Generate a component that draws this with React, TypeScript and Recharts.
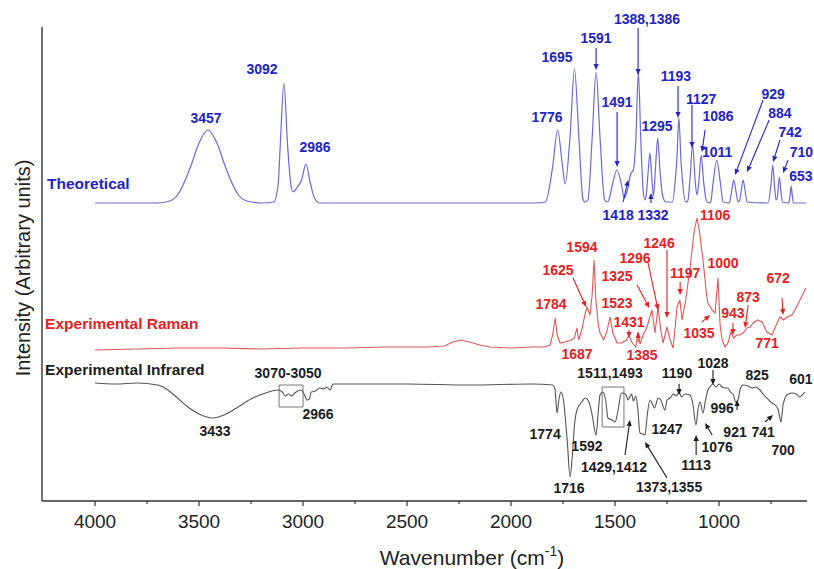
import {
  LineChart,
  Line,
  XAxis,
  YAxis,
  ReferenceDot,
  ReferenceLine,
  ReferenceArea,
  Label,
} from "recharts";

// spectra as [wavenumber (cm-1), intensity (arb., offset per trace)]
const theoretical: [number, number][] = [
  [4000, 297], [3700, 297], [3640, 299], [3600, 306], [3541, 333], [3500, 357],
  [3457, 370], [3414, 357], [3373, 333], [3314, 306], [3270, 299], [3200, 297],
  [3140, 298], [3120, 315], [3109, 357], [3092, 417], [3075, 357], [3060, 318],
  [3048, 308], [3030, 312], [3007, 320], [2986, 336], [2965, 317], [2945, 302],
  [2920, 297], [1880, 297], [1835, 298], [1800, 333], [1776, 370], [1752, 333],
  [1740, 316], [1716, 364], [1695, 431], [1674, 364], [1655, 302], [1645, 298],
  [1630, 300], [1610, 362], [1591, 428], [1572, 362], [1550, 300], [1538, 298],
  [1530, 300], [1515, 313], [1491, 330], [1467, 313], [1457, 302], [1440, 310],
  [1425, 326], [1412, 330], [1400, 360], [1388, 428], [1376, 360], [1365, 310],
  [1356, 300], [1350, 305], [1340, 330], [1332, 347], [1324, 325], [1315, 304],
  [1306, 330], [1295, 362], [1284, 330], [1272, 305], [1255, 298], [1225, 298],
  [1210, 320], [1203, 340], [1193, 382], [1183, 340], [1176, 320], [1160, 298],
  [1150, 299], [1140, 320], [1127, 355], [1115, 320], [1106, 305], [1097, 318],
  [1086, 345], [1074, 318], [1060, 299], [1045, 297], [1040, 298], [1028, 318],
  [1011, 340], [994, 318], [980, 298], [950, 297], [940, 308], [929, 320],
  [918, 308], [908, 298], [900, 300], [893, 310], [884, 320], [875, 310],
  [865, 298], [765, 297], [750, 316], [742, 335], [734, 316], [726, 300],
  [720, 302], [710, 323], [703, 310], [695, 298], [665, 297], [658, 305],
  [653, 314], [648, 305], [642, 297], [582, 297],
];

const raman: [number, number][] = [
  [4000, 150], [3800, 151], [3600, 152], [3400, 152], [3200, 151], [3000, 152],
  [2800, 152], [2600, 153], [2400, 153], [2320, 154], [2280, 158], [2240, 160],
  [2200, 158], [2150, 155], [2100, 153], [2000, 152], [1900, 153], [1840, 153],
  [1812, 155], [1800, 165], [1788, 182], [1778, 165], [1764, 157], [1740, 158],
  [1710, 160], [1695, 162], [1683, 172], [1675, 160], [1660, 170], [1645, 185],
  [1635, 193], [1620, 185], [1610, 205], [1601, 240], [1592, 200], [1580, 175],
  [1572, 167], [1555, 160], [1540, 168], [1524, 183], [1510, 167], [1490, 157],
  [1470, 157], [1445, 160], [1433, 165], [1420, 158], [1400, 153], [1389, 168],
  [1380, 156], [1365, 165], [1346, 173], [1330, 185], [1322, 190], [1308, 167],
  [1293, 193], [1280, 170], [1269, 157], [1250, 173], [1235, 160], [1221, 152],
  [1210, 175], [1202, 193], [1188, 200], [1178, 180], [1160, 200], [1139, 233],
  [1120, 268], [1106, 282], [1095, 270], [1077, 240], [1060, 205], [1053, 197],
  [1034, 190], [1019, 187], [1005, 222], [995, 175], [985, 160], [971, 153],
  [955, 158], [943, 168], [930, 162], [915, 165], [899, 165], [880, 168],
  [865, 172], [850, 173], [836, 177], [815, 180], [793, 178], [770, 168],
  [745, 165], [725, 175], [707, 183], [690, 180], [673, 183], [649, 185],
  [630, 192], [611, 200], [582, 212],
];

const infrared: [number, number][] = [
  [4000, 117], [3900, 116], [3800, 117], [3700, 115], [3673, 113], [3620, 105],
  [3560, 94], [3500, 86], [3433, 82], [3380, 85], [3320, 92], [3250, 101],
  [3180, 107], [3120, 110], [3100, 108], [3085, 104], [3070, 106], [3055, 104],
  [3040, 107], [3010, 110], [2995, 106], [2980, 100], [2970, 101], [2960, 108],
  [2940, 109], [2920, 112], [2900, 111], [2885, 113], [2870, 110], [2856, 116],
  [2800, 116], [2500, 116], [2200, 115], [1900, 116], [1800, 115], [1788, 110],
  [1779, 87], [1770, 100], [1760, 108], [1748, 100], [1730, 60], [1716, 23],
  [1705, 45], [1695, 75], [1683, 90], [1660, 98], [1644, 102], [1625, 98],
  [1610, 85], [1591, 65], [1580, 90], [1572, 105], [1560, 108], [1545, 100],
  [1534, 82], [1515, 80], [1500, 78], [1485, 90], [1470, 107], [1450, 106],
  [1437, 100], [1429, 103], [1420, 106], [1412, 99], [1400, 104], [1390, 90],
  [1380, 67], [1365, 66], [1356, 65], [1345, 85], [1332, 100], [1320, 96],
  [1310, 92], [1293, 102], [1280, 100], [1260, 90], [1250, 100], [1235, 102],
  [1220, 106], [1205, 104], [1192, 108], [1180, 103], [1165, 106], [1139, 105],
  [1125, 95], [1111, 75], [1100, 92], [1091, 98], [1077, 87], [1065, 100],
  [1053, 110], [1040, 114], [1029, 116], [1015, 113], [1000, 116], [985, 113],
  [970, 112], [957, 112], [945, 108], [930, 105], [921, 98], [909, 100],
  [897, 112], [885, 115], [860, 114], [840, 112], [825, 113], [803, 110],
  [785, 105], [760, 100], [745, 97], [730, 95], [715, 90], [702, 78],
  [692, 95], [673, 105], [650, 107], [630, 106], [611, 103], [600, 105],
  [587, 108],
];

const xTicks = [4000, 3750, 3500, 3250, 3000, 2750, 2500, 2250, 2000, 1750, 1500, 1250, 1000, 750];

// peak labels: [text, wavenumber, intensity]
type Note = [string, number, number];
const theoNotes: Note[] = [
  ["3457", 3466, 382], ["3092", 3197, 431], ["2986", 2942, 353],
  ["1776", 1827, 383], ["1695", 1779, 443], ["1591", 1591, 462],
  ["1388,1386", 1346, 481], ["1491", 1490, 398], ["1295", 1298, 374],
  ["1193", 1207, 424], ["1127", 1086, 401], ["1086", 1005, 384],
  ["1011", 1009, 348], ["929", 740, 406], ["884", 707, 387],
  ["742", 658, 368], ["710", 604, 348], ["653", 606, 324],
  ["1418", 1485, 285], ["1332", 1317, 285],
];
const ramanNotes: Note[] = [
  ["1106", 1019, 285], ["1594", 1659, 253], ["1246", 1288, 257],
  ["1296", 1404, 242], ["1625", 1774, 230], ["1325", 1490, 224],
  ["1197", 1163, 227], ["1000", 981, 237], ["672", 716, 222],
  ["873", 860, 203], ["1784", 1808, 196], ["1523", 1490, 197],
  ["943", 933, 187], ["1431", 1433, 178], ["1035", 1096, 167],
  ["771", 769, 157], ["1687", 1683, 146], ["1385", 1370, 145],
];
const irNotes: Note[] = [
  ["3070-3050", 3072, 127], ["2966", 2928, 86], ["3433", 3423, 69],
  ["1511,1493", 1524, 127], ["1190", 1202, 127], ["1028", 1029, 137],
  ["825", 817, 125], ["601", 606, 121], ["996", 985, 92],
  ["921", 923, 68], ["741", 788, 68], ["1774", 1836, 66],
  ["1247", 1250, 71], ["1592", 1635, 54], ["1076", 1009, 53],
  ["700", 692, 50], ["1429,1412", 1505, 33], ["1113", 1110, 35],
  ["1716", 1721, 12], ["1373,1355", 1240, 13],
];

// arrows: [from wn, from int, to wn, to int]
type Arrow = [number, number, number, number];
const theoArrows: Arrow[] = [
  [1591, 452, 1591, 430], [1389, 472, 1389, 425], [1490, 388, 1490, 333],
  [1197, 414, 1197, 382], [1130, 395, 1130, 352], [1067, 370, 1082, 348],
  [788, 400, 923, 325], [759, 380, 865, 328], [707, 360, 740, 338],
  [668, 340, 692, 327], [1461, 298, 1437, 320], [1327, 297, 1327, 307],
];
const ramanArrows: Arrow[] = [
  [1250, 250, 1250, 182], [1341, 237, 1293, 190], [1702, 222, 1639, 193],
  [1394, 215, 1335, 192], [1187, 218, 1187, 205], [697, 202, 692, 185],
  [860, 195, 875, 172], [933, 177, 933, 165], [1433, 170, 1433, 162],
  [1082, 178, 1043, 185], [1389, 158, 1389, 168],
];
const irArrows: Arrow[] = [
  [1192, 116, 1192, 105], [1029, 130, 1029, 115], [913, 90, 913, 100],
  [779, 78, 740, 85], [1033, 65, 1067, 77], [1452, 45, 1428, 80],
  [1110, 45, 1110, 65], [1250, 22, 1356, 58],
];

// highlighted regions: [wn1, wn2, int1, int2]
const boxes: [number, number, number, number][] = [
  [3115, 3000, 93, 115],
  [1562, 1457, 73, 113],
];

const BLUE = "#2323c6";
const RED = "#e4221f";
const BLACK = "#1c1c1c";
const FONT = "Arial, 'Liberation Sans', sans-serif";

const traceTitles: [string, number, number, string][] = [
  ["Theoretical", 4231, 317, BLUE],
  ["Experimental Raman", 4240, 177, RED],
  ["Experimental Infrared", 4240, 131, BLACK],
];

const toPts = (a: [number, number][]) => a.map(([x, y]) => ({ x, y }));

const Tick = (p: any) => {
  const { x, y, payload } = p;
  const major = payload.value % 500 === 0;
  return (
    <g>
      <line x1={x} x2={x} y1={y} y2={y + (major ? 5 : 3)} stroke="#333" strokeWidth={1.2} />
      {major && (
        <text x={x} y={y + 27} textAnchor="middle" fontSize={19} fill="#222" fontFamily={FONT}>
          {payload.value}
        </text>
      )}
    </g>
  );
};

const arrowShape = (color: string) => (p: any) => {
  const { x1, y1, x2, y2 } = p;
  const a = Math.atan2(y2 - y1, x2 - x1);
  const len = 6;
  const half = 2.6;
  const bx = x2 - len * Math.cos(a);
  const by = y2 - len * Math.sin(a);
  const pts = `${x2},${y2} ${bx + half * Math.sin(a)},${by - half * Math.cos(a)} ${bx - half * Math.sin(a)},${by + half * Math.cos(a)}`;
  return (
    <g>
      <line x1={x1} y1={y1} x2={bx} y2={by} stroke={color} strokeWidth={1.1} />
      <polygon points={pts} fill={color} />
    </g>
  );
};

const textShape = (text: string, color: string, size = 14, anchor = "middle") => (p: any) => (
  <text
    x={p.cx}
    y={p.cy}
    textAnchor={anchor}
    dominantBaseline="central"
    fontSize={size}
    fontWeight={700}
    fontFamily={FONT}
    fill={color}
  >
    {text}
  </text>
);

export default function App() {
  const notes = (list: Note[], color: string, key: string) =>
    list.map(([t, x, y], i) => (
      <ReferenceDot key={key + i} x={x} y={y} r={1} ifOverflow="visible" shape={textShape(t, color)} />
    ));
  const arrows = (list: Arrow[], color: string, key: string) =>
    list.map(([xa, ya, xb, yb], i) => (
      <ReferenceLine
        key={key + i}
        segment={[{ x: xa, y: ya }, { x: xb, y: yb }]}
        ifOverflow="visible"
        stroke={color}
        shape={arrowShape(color)}
      />
    ));

  return (
    <div style={{ position: "absolute", left: 0, top: 0, background: "#fff" }}>
      <LineChart width={814} height={569} margin={{ top: 27, right: 7, left: 0, bottom: 0 }}>
        <XAxis
          type="number"
          dataKey="x"
          domain={[577, 4255]}
          reversed
          ticks={xTicks}
          interval={0}
          tick={<Tick />}
          tickSize={0}
          tickMargin={0}
          tickLine={false}
          height={68}
          axisLine={{ stroke: "#333", strokeWidth: 1.4 }}
          allowDataOverflow
        >
          <Label
            content={() => (
              <text x={472} y={565} textAnchor="middle" fontSize={21} fill="#222" fontFamily={FONT}>
                Wavenumber (cm
                <tspan dy={-9} fontSize={14}>-1</tspan>
                <tspan dy={9}>)</tspan>
              </text>
            )}
          />
        </XAxis>
        <YAxis
          type="number"
          domain={[-1, 473]}
          width={42}
          tick={false}
          tickLine={false}
          axisLine={{ stroke: "#333", strokeWidth: 1.4 }}
          allowDataOverflow
        >
          <Label
            content={() => (
              <text
                x={23}
                y={268}
                transform="rotate(-90 23 268)"
                textAnchor="middle"
                dominantBaseline="central"
                fontSize={20}
                fill="#222"
                fontFamily={FONT}
              >
                Intensity (Arbitrary units)
              </text>
            )}
          />
        </YAxis>

        <Line data={toPts(theoretical)} dataKey="y" type="monotone" stroke="#6a6ad8" strokeWidth={1.2} dot={false} isAnimationActive={false} />
        <Line data={toPts(raman)} dataKey="y" type="linear" stroke="#e05858" strokeWidth={1.1} dot={false} isAnimationActive={false} />
        <Line data={toPts(infrared)} dataKey="y" type="monotone" stroke="#555" strokeWidth={1.1} dot={false} isAnimationActive={false} />

        {boxes.map(([xa, xb, ya, yb], i) => (
          <ReferenceArea key={"b" + i} x1={xa} x2={xb} y1={ya} y2={yb} fill="none" fillOpacity={0} stroke="#777" strokeWidth={1} ifOverflow="visible" />
        ))}

        {arrows(theoArrows, BLUE, "ta")}
        {arrows(ramanArrows, RED, "ra")}
        {arrows(irArrows, BLACK, "ia")}
        {notes(theoNotes, BLUE, "tn")}
        {notes(ramanNotes, RED, "rn")}
        {notes(irNotes, BLACK, "in")}
        {traceTitles.map(([t, x, y, c], i) => (
          <ReferenceDot key={"tt" + i} x={x} y={y} r={1} ifOverflow="visible" shape={textShape(t, c, 15.5, "start")} />
        ))}
      </LineChart>
    </div>
  );
}
